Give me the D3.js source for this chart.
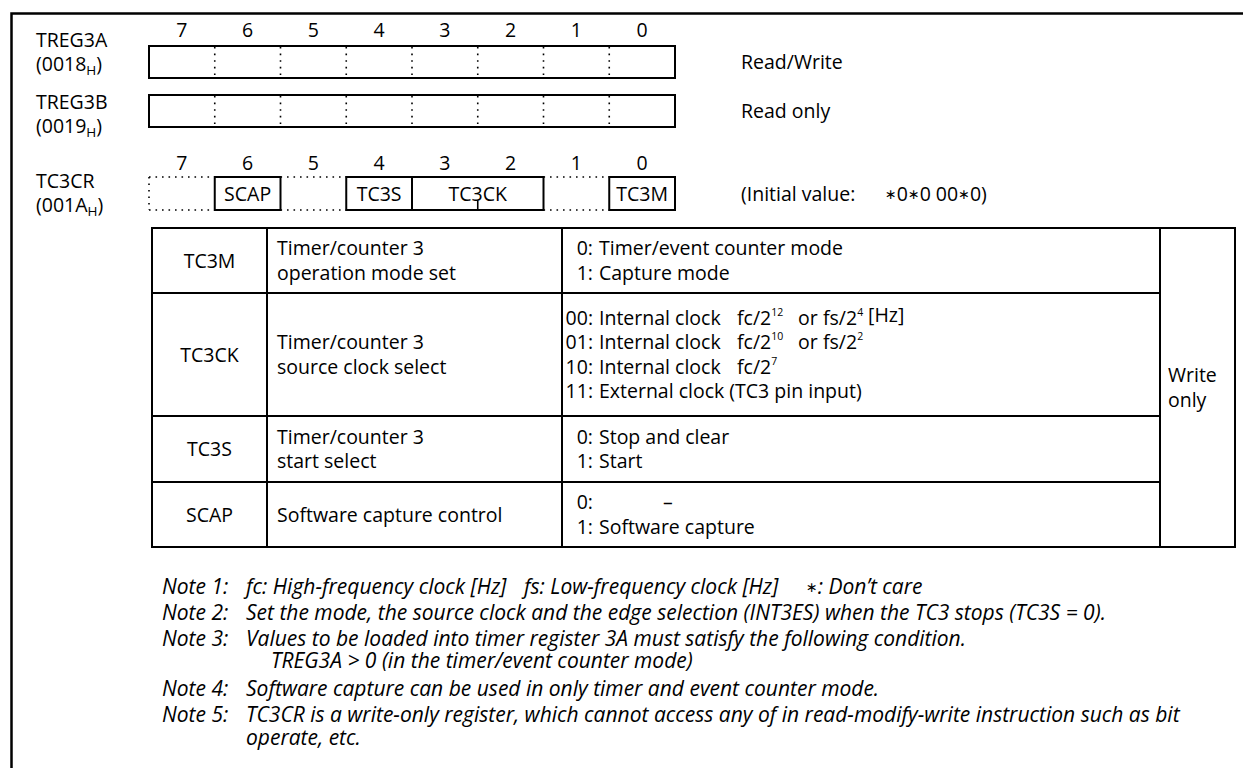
<!DOCTYPE html>
<html><head><meta charset="utf-8">
<script src="https://cdn.jsdelivr.net/npm/d3@7"></script>
<style>
body{margin:0;background:#fff}
svg{display:block}
text{font-family:"Open Sans",sans-serif;fill:#000}
</style>
</head><body>
<svg id="c" width="1243" height="768"></svg>
<script>
// ---------- data ----------
const bits = [7, 6, 5, 4, 3, 2, 1, 0];
const regNames = ["TREG3A", "TREG3B"];
const regAddrs = ["0018", "0019"];
const regAccess = ["Read/Write", "Read only"];
const ctrlName = "TC3CR";
const ctrlAddr = "001A";
const ctrlFields = [
  {label: null, hi: 7, lo: 7}, {label: "SCAP", hi: 6, lo: 6}, {label: null, hi: 5, lo: 5},
  {label: "TC3S", hi: 4, lo: 4}, {label: "TC3CK", hi: 3, lo: 2}, {label: null, hi: 1, lo: 1},
  {label: "TC3M", hi: 0, lo: 0}
];
const initialValue = ["*", "0", "*", "0 00", "*", "0)"];
const fieldNames = ["TC3M", "TC3CK", "TC3S", "SCAP"];
const fieldDescs = [
  ["Timer/counter 3", "operation mode set"],
  ["Timer/counter 3", "source clock select"],
  ["Timer/counter 3", "start  select"],
  ["Software capture control"]
];
const fieldSettings = [
  [["0:", "Timer/event counter mode"], ["1:", "Capture mode"]],
  [["00:", "Internal clock"], ["01:", "Internal clock"], ["10:", "Internal clock"], ["11:", "External clock (TC3 pin input)"]],
  [["0:", "Stop and clear"], ["1:", "Start"]],
  [["0:", ""], ["1:", "Software capture"]]
];
const clockFc = [["fc/2", "12"], ["fc/2", "10"], ["fc/2", "7"], null];
const clockFs = [["fs/2", "4"], ["fs/2", "2"], null, null];
const accessNote = ["Write", "only"];
const noteLabels = ["Note 1:", "Note 2:", "Note 3:", "", "Note 4:", "Note 5:", ""];
const noteTexts = [
  null,
  "Set the mode, the source clock and the edge selection (INT3ES) when the TC3 stops (TC3S = 0).",
  "Values to be loaded into timer register 3A must satisfy the following condition.",
  "TREG3A > 0 (in the timer/event counter mode)",
  "Software capture can be used in only timer and event counter mode.",
  "TC3CR is a write-only register, which cannot access any of in read-modify-write instruction such as bit",
  "operate, etc."
];
const note1Parts = ["fc: High-frequency clock [Hz]", "fs: Low-frequency clock [Hz]", ": Don\u2019t care"];

// ---------- layout ----------
const svg = d3.select("#c");
const FS = 19.5, NFS = 21;
const BL = 0.36; // baseline offset (em) from a row centre
const x = d3.scaleBand().domain(bits).range([149, 675]);
const boxY = [46, 95], boxH = 32;
const ctrlY = 177, ctrlH = 33;

// frame
svg.append("path").attr("d", "M11.5,800 V13.5 H1260").attr("fill", "none").attr("stroke", "#000").attr("stroke-width", 2.5);

// bit number rows
function bitNumbers(y) {
  svg.append("g").selectAll("text").data(bits).join("text")
    .attr("x", d => x(d) + x.bandwidth() / 2).attr("y", y)
    .attr("text-anchor", "middle").attr("font-size", FS).text(d => d);
}
bitNumbers(37);
bitNumbers(170);

function regLabel(name, addr, y1, y2) {
  svg.append("text").attr("x", 36).attr("y", y1).attr("font-size", FS).text(name);
  const t = svg.append("text").attr("x", 36).attr("y", y2).attr("font-size", FS);
  t.append("tspan").text("(" + addr);
  t.append("tspan").attr("font-size", 13.5).attr("dy", 4).text("H");
  t.append("tspan").attr("dy", -4).text(")");
}

// TREG boxes
regNames.forEach((n, i) => {
  const y = boxY[i];
  svg.append("rect").attr("x", x(7)).attr("y", y).attr("width", x(0) + x.bandwidth() - x(7)).attr("height", boxH)
    .attr("fill", "none").attr("stroke", "#000").attr("stroke-width", 2);
  svg.append("g").selectAll("line").data(bits.slice(1)).join("line")
    .attr("x1", d => x(d)).attr("x2", d => x(d)).attr("y1", y + 1).attr("y2", y + boxH - 1)
    .attr("stroke", "#000").attr("stroke-width", 1.6).attr("stroke-dasharray", "1.6,5");
  svg.append("text").attr("x", 741).attr("y", y + 23).attr("font-size", FS).text(regAccess[i]);
});
regLabel(regNames[0], regAddrs[0], 47, 71);
regLabel(regNames[1], regAddrs[1], 109, 133);
regLabel(ctrlName, ctrlAddr, 188, 212);

// TC3CR fields
ctrlFields.forEach(f => {
  const x0 = x(f.hi), x1 = x(f.lo) + x.bandwidth();
  if (f.label) {
    svg.append("rect").attr("x", x0).attr("y", ctrlY).attr("width", x1 - x0).attr("height", ctrlH)
      .attr("fill", "none").attr("stroke", "#000").attr("stroke-width", 2);
    svg.append("text").attr("x", (x0 + x1) / 2).attr("y", ctrlY + ctrlH / 2 + BL * FS)
      .attr("text-anchor", "middle").attr("font-size", FS).text(f.label);
    if (f.hi !== f.lo) {
      for (let b = f.hi - 1; b >= f.lo; b--) {
        svg.append("line").attr("x1", x(b)).attr("x2", x(b)).attr("y1", ctrlY + ctrlH).attr("y2", ctrlY + ctrlH - 9)
          .attr("stroke", "#000").attr("stroke-width", 1.6);
      }
    }
  } else {
    const segs = [[x0, ctrlY, x1, ctrlY], [x0, ctrlY + ctrlH, x1, ctrlY + ctrlH]];
    if (f.hi === 7) segs.push([x0, ctrlY, x0, ctrlY + ctrlH]);
    segs.forEach(s => svg.append("line").attr("x1", s[0]).attr("y1", s[1]).attr("x2", s[2]).attr("y2", s[3])
      .attr("stroke", "#000").attr("stroke-width", 1.6).attr("stroke-dasharray", "1.6,4.9"));
  }
});

// text with small centred "don't care" asterisks
function starText(sel, parts) {
  let raised = false;
  parts.forEach(p => {
    if (p === "*") {
      sel.append("tspan").attr("font-family", "DejaVu Sans").attr("font-style", "normal")
        .attr("font-size", 14).attr("dy", raised ? 0 : -2).text("\u2217");
      raised = true;
    } else {
      sel.append("tspan").attr("dy", raised ? 2 : 0).text(p);
      raised = false;
    }
  });
}
svg.append("text").attr("x", 741).attr("y", 201).attr("font-size", FS).text("(Initial value:");
starText(svg.append("text").attr("x", 885).attr("y", 201).attr("font-size", FS), initialValue);

// ---------- table ----------
const colX = [152, 267, 562, 1160, 1235];
const rowY = [228, 293, 416, 482, 547];
const LH = 24.5;
const tg = svg.append("g");
tg.append("rect").attr("x", colX[0]).attr("y", rowY[0]).attr("width", colX[4] - colX[0]).attr("height", rowY[4] - rowY[0])
  .attr("fill", "none").attr("stroke", "#000").attr("stroke-width", 2);
[1, 2, 3].forEach(c => tg.append("line").attr("x1", colX[c]).attr("x2", colX[c]).attr("y1", rowY[0]).attr("y2", rowY[4])
  .attr("stroke", "#000").attr("stroke-width", 2));
[1, 2, 3].forEach(r => tg.append("line").attr("x1", colX[0]).attr("x2", colX[3]).attr("y1", rowY[r]).attr("y2", rowY[r])
  .attr("stroke", "#000").attr("stroke-width", 2));

const by = cy => cy + BL * FS;
fieldNames.forEach((n, i) => {
  const cy = (rowY[i] + rowY[i + 1]) / 2;
  tg.append("text").attr("x", (colX[0] + colX[1]) / 2).attr("y", by(cy))
    .attr("text-anchor", "middle").attr("font-size", FS).text(n);
  const d = fieldDescs[i];
  d.forEach((s, j) => tg.append("text").attr("x", 277).attr("y", by(cy + (j - (d.length - 1) / 2) * LH))
    .attr("font-size", FS).text(s));
  const st = fieldSettings[i];
  st.forEach((s, j) => {
    const y = by(cy + (j - (st.length - 1) / 2) * LH);
    tg.append("text").attr("x", 593).attr("y", y).attr("text-anchor", "end").attr("font-size", FS).text(s[0]);
    tg.append("text").attr("x", 599).attr("y", y).attr("font-size", FS).text(s[1]);
    if (i === 3 && j === 0) tg.append("text").attr("x", 663).attr("y", y).attr("font-size", FS).text("\u2013");
    if (i === 1) {
      if (clockFc[j]) {
        const t = tg.append("text").attr("x", 737).attr("y", y).attr("font-size", FS);
        t.append("tspan").text(clockFc[j][0]);
        t.append("tspan").attr("font-size", 10.5).attr("dy", -9).text(clockFc[j][1]);
      }
      if (clockFs[j]) {
        tg.append("text").attr("x", 798).attr("y", y).attr("font-size", FS).text("or");
        const t = tg.append("text").attr("x", 823).attr("y", y).attr("font-size", FS);
        t.append("tspan").text(clockFs[j][0]);
        t.append("tspan").attr("font-size", 10.5).attr("dy", -9).text(clockFs[j][1]);
      }
      if (j === 0) tg.append("text").attr("x", 868).attr("y", y - 3).attr("font-size", FS).text("[Hz]");
    }
  });
});
accessNote.forEach((s, j) => tg.append("text").attr("x", 1168).attr("y", by(375 + j * 25))
  .attr("font-size", FS).text(s));

// ---------- notes ----------
const noteY = [586, 612, 638, 660, 688, 714, 737];
const nb = cy => cy + BL * NFS;
const ng = svg.append("g").attr("font-style", "italic");
noteLabels.forEach((l, i) => {
  if (l) ng.append("text").attr("x", 162).attr("y", nb(noteY[i])).attr("font-size", NFS).text(l);
  if (noteTexts[i]) ng.append("text").attr("x", i === 3 ? 271 : 246).attr("y", nb(noteY[i]))
    .attr("font-size", NFS).text(noteTexts[i]);
});
ng.append("text").attr("x", 246).attr("y", nb(noteY[0])).attr("font-size", NFS).text(note1Parts[0]);
ng.append("text").attr("x", 524).attr("y", nb(noteY[0])).attr("font-size", NFS).text(note1Parts[1]);
starText(ng.append("text").attr("x", 806).attr("y", nb(noteY[0])).attr("font-size", NFS), ["*", note1Parts[2]]);
</script>
</body></html>
